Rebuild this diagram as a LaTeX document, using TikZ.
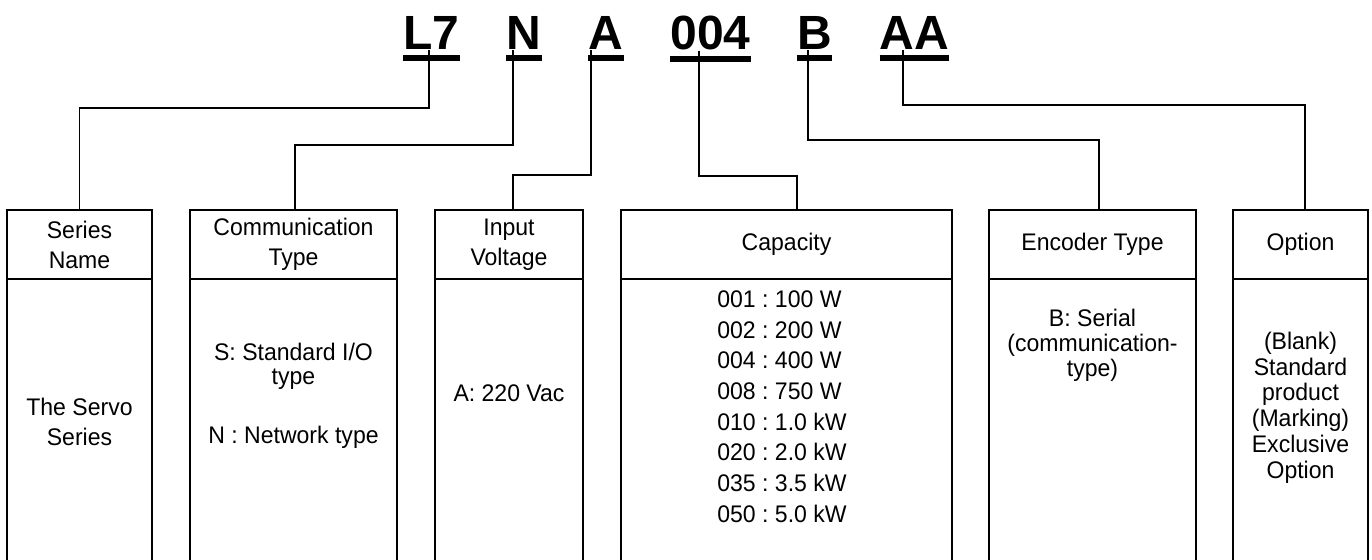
\documentclass[tikz,border=0pt]{standalone}
\usepackage{fontspec}
\setmainfont{Liberation Sans}[FakeStretch=0.96]
\newfontfamily\codefont{Liberation Sans}
\usetikzlibrary{calc}
\begin{document}
\frenchspacing
\begin{tikzpicture}[x=1pt,y=-1pt,
  code/.style={font=\codefont\fontsize{48}{48}\selectfont\bfseries, inner sep=0pt, anchor=base},
  bar/.style={line width=6pt},
  link/.style={line width=1.8pt},
  hdr/.style={draw, line width=1.8pt, minimum height=69pt, inner sep=0pt,
              font=\fontsize{24}{30}\selectfont\frenchspacing, align=center},
  bodybox/.style={draw, line width=1.8pt, minimum height=286pt, inner sep=0pt},
  txt/.style={font=\fontsize{24}{30}\selectfont\frenchspacing, align=center, inner sep=0pt}]
\useasboundingbox (0,0) rectangle (1372,559);

% code letters
\node[code] (l7) at (431.5,50) {L7};
\node[code] (n)  at (524,50) {N};
\node[code] (a)  at (606,50) {A};
\node[code] (cc) at (710.5,50) {004};
\node[code] (b)  at (814.5,50) {B};
\node[code] (aa) at (914.5,50) {AA};
\foreach \k in {l7,n,a,cc,b,aa}{
  \draw[bar] ([yshift=-8pt]\k.south west) -- ([yshift=-8pt]\k.south east);
}

% header boxes
\node[hdr, minimum width=145pt] (sn)  at (79.5,244.5)  {Series\\Name};
\node[hdr, minimum width=207pt] (cm)  at (293.5,244.5) {Communication\\Type};
\node[hdr, minimum width=148pt] (iv)  at (509,244.5)   {Input\\Voltage};
\node[hdr, minimum width=331pt] (cap) at (786.5,244.5) {Capacity};
\node[hdr, minimum width=207pt] (enc) at (1092.5,244.5){Encoder Type};
\node[hdr, minimum width=135pt] (opt) at (1300.5,244.5){Option};

% body boxes
\node[bodybox, minimum width=145pt] (snb)  at (79.5,422)   {};
\node[bodybox, minimum width=207pt] (cmb)  at (293.5,422)  {};
\node[bodybox, minimum width=148pt] (ivb)  at (509,422)    {};
\node[bodybox, minimum width=331pt] (capb) at (786.5,422)  {};
\node[bodybox, minimum width=207pt] (encb) at (1092.5,422) {};
\node[bodybox, minimum width=135pt] (optb) at (1300.5,422) {};

% body texts
\node[txt] (t1) at (79.5,422) {The Servo\\Series};
\node[txt, font=\fontsize{24}{24}\selectfont\frenchspacing] (t2a) at (293.5,366) {S: Standard I/O\\type};
\node[txt] (t2b) at (293.5,437) {N : Network type};
\node[txt] (t3) at (509,393) {A: 220 Vac};
\node[txt, align=left, font=\fontsize{24}{30.7}\selectfont\frenchspacing] (t4) at (782,406.5)
  {001 : 100 W\\002 : 200 W\\004 : 400 W\\008 : 750 W\\010 : 1.0 kW\\020 : 2.0 kW\\035 : 3.5 kW\\050 : 5.0 kW};
\node[txt, font=\fontsize{24}{25}\selectfont\frenchspacing] (t5) at (1092.5,345) {B: Serial\\(communication-\\type)};
\node[txt, font=\fontsize{24}{25.8}\selectfont\frenchspacing] (t6) at (1300.5,407.5)
  {(Blank)\\Standard\\product\\(Marking)\\Exclusive\\Option};

% connectors
\draw[link] ([xshift=-2.5pt]l7.south) -- ++(0,58) -| (sn.north);
\draw[link] ([xshift=-11pt]n.south) -- ++(0,95) -| ([xshift=1.5pt]cm.north);
\draw[link] ([xshift=-15pt]a.south) -- ++(0,125) -| ([xshift=4pt]iv.north);
\draw[link] ([xshift=-11.5pt]cc.south) -- ++(0,125) -| ([xshift=10.5pt]cap.north);
\draw[link] ([xshift=-6.5pt]b.south) -- ++(0,90) -| ([xshift=6.5pt]enc.north);
\draw[link] ([xshift=-11.5pt]aa.south) -- ++(0,55) -| ([xshift=4.5pt]opt.north);
\end{tikzpicture}
\end{document}
